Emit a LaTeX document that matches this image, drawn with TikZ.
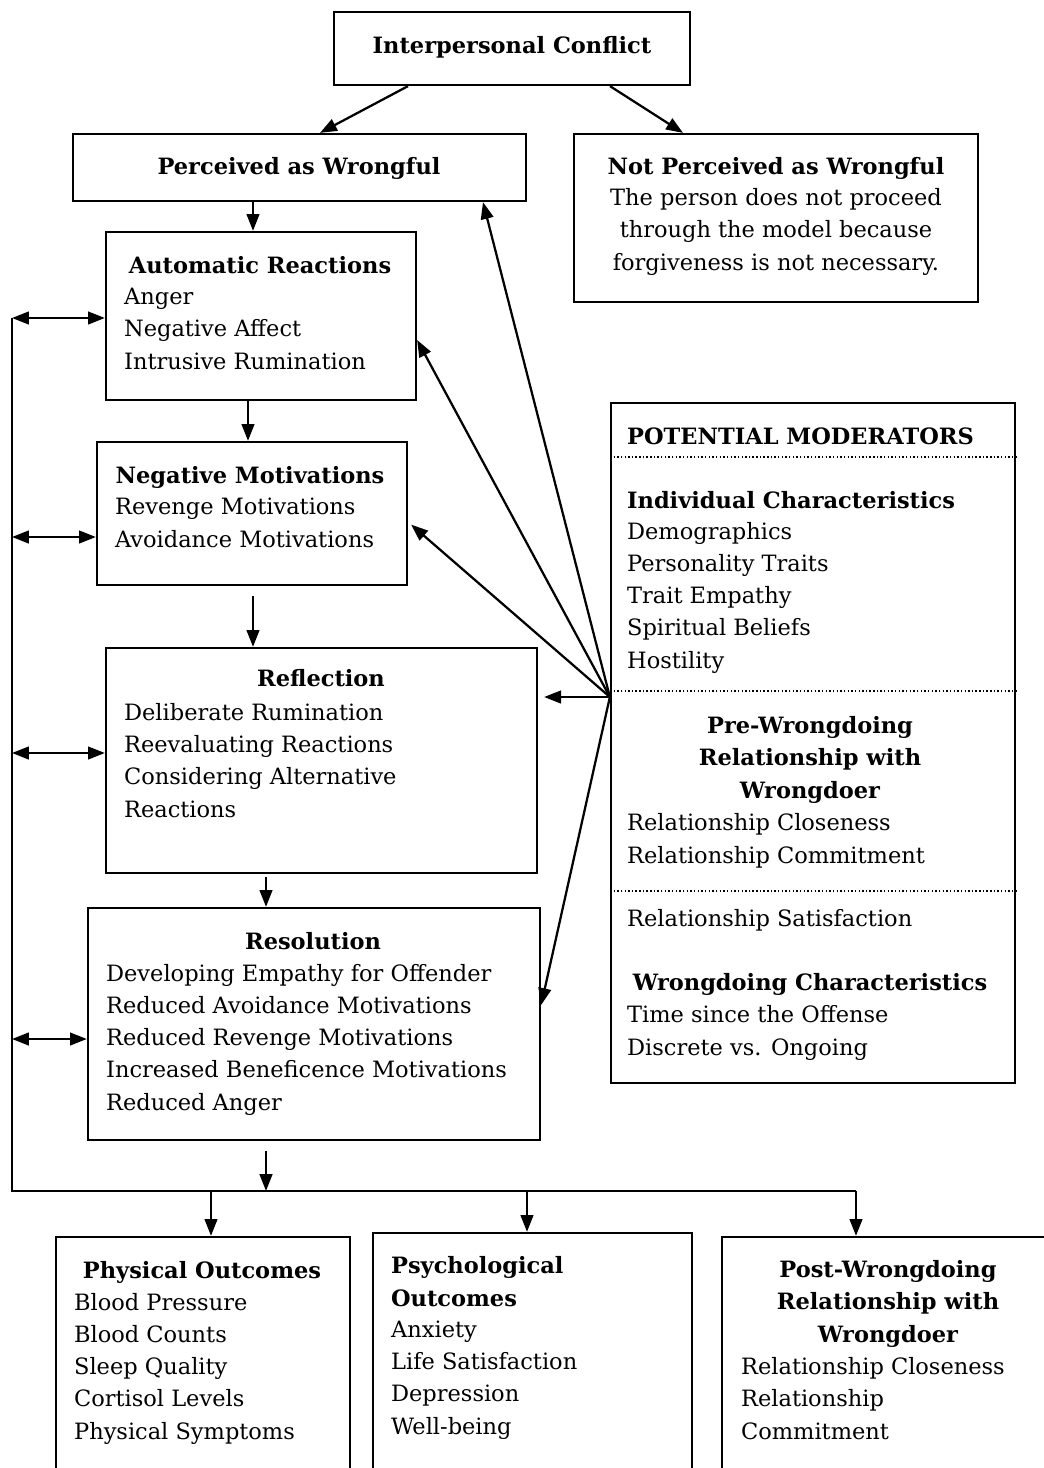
\documentclass[tikz,border=0pt]{standalone}
\usepackage{fontspec}
\setmainfont{DejaVu Serif}
\usetikzlibrary{arrows.meta,fit}
\newcommand\diagfont{\fontsize{16pt}{22.8pt}\selectfont}
\begin{document}
\begin{tikzpicture}[x=0.025cm, y=-0.025cm, line width=1.6pt, font=\diagfont]
	\tikzset{
		box/.style={draw, inner sep=0pt},
		head/.style={font=\diagfont\bfseries, inner sep=0pt, anchor=base},
		items/.style={align=left, inner sep=0pt, anchor=base west},
		lines/.style={align=center, inner sep=0pt, anchor=base},
		arr/.style={-{Triangle[length=12pt,width=9pt]}},
		dblarr/.style={{Triangle[length=12pt,width=9pt]}-{Triangle[length=12pt,width=9pt]}},
		dotline/.style={line width=1pt, dash pattern=on 1pt off 1.6pt}
	}
	\useasboundingbox (0,0) rectangle (1044,1468);
	% boxes
	\node[box, fit={(334,12) (690,85)}] (conflict) {};
	\node[box, fit={(73,134) (526,201)}] (perc) {};
	\node[box, fit={(574,134) (978,302)}] (notperc) {};
	\node[box, fit={(106,232) (416,400)}] (auto) {};
	\node[box, fit={(97,442) (407,585)}] (neg) {};
	\node[box, fit={(106,648) (537,873)}] (refl) {};
	\node[box, fit={(88,908) (540,1140)}] (resol) {};
	\node[box, fit={(611,403) (1015,1083)}] (moder) {};
	\node[box, fit={(56,1237) (350,1490)}] (phys) {};
	\node[box, fit={(373,1233) (692,1490)}] (psych) {};
	\node[box, fit={(722,1237) (1070,1490)}] (post) {};
	% texts (multi-line nodes sit on the baseline of their last line)
	\node[head] (conflictT) at (512,53) {Interpersonal Conflict};
	\node[head] (percT) at (299,174) {Perceived as Wrongful};
	\node[head] (notpercT) at (776,174) {Not Perceived as Wrongful};
	\node[lines] (notpercL) at (776,270) {The person does not proceed\\through the model because\\forgiveness is not necessary.};
	\node[head] (autoT) at (260,273) {Automatic Reactions};
	\node[items] (autoL) at (123,369) {Anger\\Negative Affect\\Intrusive Rumination};
	\node[head] (negT) at (250,483) {Negative Motivations};
	\node[items] (negL) at (114,547) {Revenge Motivations\\Avoidance Motivations};
	\node[head] (reflT) at (321,686) {Reflection};
	\node[items] (reflL) at (123,817) {Deliberate Rumination\\Reevaluating Reactions\\Considering Alternative\\Reactions};
	\node[head] (resolT) at (313,949) {Resolution};
	\node[items] (resolL) at (105,1110) {Developing Empathy for Offender\\Reduced Avoidance Motivations\\Reduced Revenge Motivations\\Increased Beneficence Motivations\\Reduced Anger};
	\node[head, anchor=base west] (moderT) at (626,444) {POTENTIAL MODERATORS};
	\node[head, anchor=base west] (indT) at (626,508) {Individual Characteristics};
	\node[items] (indL) at (626,668) {Demographics\\Personality Traits\\Trait Empathy\\Spiritual Beliefs\\Hostility};
	\node[head, align=center] (preT) at (810,798) {Pre-Wrongdoing\\Relationship with\\Wrongdoer};
	\node[items] (preL) at (626,863) {Relationship Closeness\\Relationship Commitment};
	\node[items] (satL) at (626,926) {Relationship Satisfaction};
	\node[head] (wrongT) at (810,990) {Wrongdoing Characteristics};
	\node[items] (wrongL) at (626,1055) {Time since the Offense\\Discrete vs. Ongoing};
	\node[head] (physT) at (202,1278) {Physical Outcomes};
	\node[items] (physL) at (73,1439) {Blood Pressure\\Blood Counts\\Sleep Quality\\Cortisol Levels\\Physical Symptoms};
	\node[head, anchor=base west, align=left] (psychT) at (390,1306) {Psychological\\Outcomes};
	\node[items] (psychL) at (390,1434) {Anxiety\\Life Satisfaction\\Depression\\Well-being};
	\node[head, align=center] (postT) at (888,1342) {Post-Wrongdoing\\Relationship with\\Wrongdoer};
	\node[items] (postL) at (740,1439) {Relationship Closeness\\Relationship\\Commitment};
	% dotted separators
	\draw[dotline] (moder.west |- 0,457) -- (moder.east |- 0,457);
	\draw[dotline] (moder.west |- 0,691) -- (moder.east |- 0,691);
	\draw[dotline] (moder.west |- 0,891) -- (moder.east |- 0,891);
	% main flow
	\draw[arr] (408,0 |- conflict.south) -- (320,0 |- perc.north);
	\draw[arr] (610,0 |- conflict.south) -- (683,0 |- notperc.north);
	\draw[arr] (253,0 |- perc.south) -- (253,0 |- auto.north);
	\draw[arr] (248,0 |- auto.south) -- (248,0 |- neg.north);
	\draw[arr, shorten <=0.25cm] (253,0 |- neg.south) -- (253,0 |- refl.north);
	\draw[arr, shorten <=0.08cm] (266,0 |- refl.south) -- (266,0 |- resol.north);
	% outcome bus
	\coordinate (bustop) at (12,318);
	\coordinate (buscorner) at (12,1191);
	\coordinate (busend) at (856,1191);
	\draw (bustop) -- (buscorner) -- (busend);
	\draw[arr, shorten <=0.25cm] (266,0 |- resol.south) -- (266,0 |- busend);
	\draw[arr] (211,0 |- busend) -- (211,0 |- phys.north);
	\draw[arr] (527,0 |- busend) -- (527,0 |- psych.north);
	\draw[arr] (busend) -- (856,0 |- post.north);
	\draw[dblarr] (bustop) -- (auto.west |- bustop);
	\draw[dblarr] (12,537) -- (neg.west |- 0,537);
	\draw[dblarr] (12,753) -- (refl.west |- 0,753);
	\draw[dblarr] (12,1039) -- (resol.west |- 0,1039);
	% moderator fan
	\coordinate (hub) at (moder.west |- 0,697);
	\draw[arr] (hub) -- (483,0 |- perc.south);
	\draw[arr] (hub) -- (auto.east |- 0,340);
	\draw[arr, shorten >=0.1cm] (hub) -- (neg.east |- 0,522);
	\draw[arr, shorten >=0.15cm] (hub) -- (refl.east |- hub);
	\draw[arr] (hub) -- (resol.east |- 0,1005);
\end{tikzpicture}
\end{document}
